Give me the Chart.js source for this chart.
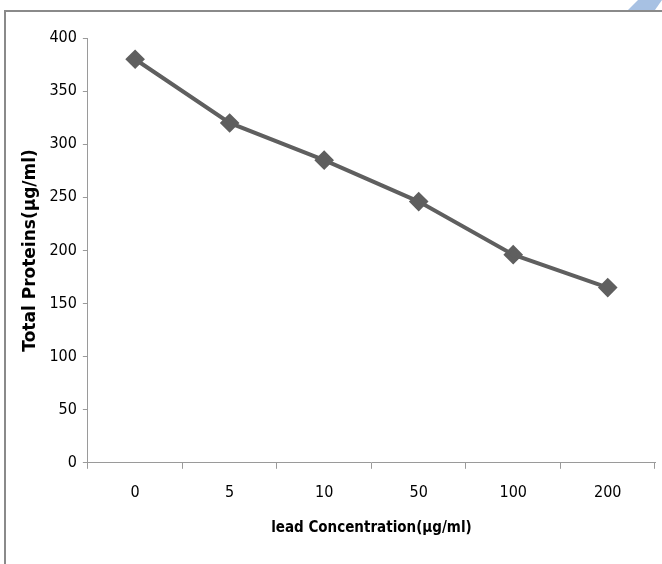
<!DOCTYPE html>
<html>
<head>
<meta charset="utf-8">
<script src="https://cdn.jsdelivr.net/npm/chart.js@4"></script>
<style>
  html, body { margin: 0; padding: 0; background: #fff; }
  #wrap { position: relative; width: 662px; height: 564px; overflow: hidden; }
  #frame { position: absolute; left: 4px; top: 10px; right: -4px; bottom: -4px;
           border-left: 2px solid #8a8a8a; border-top: 2px solid #8a8a8a; }
  #corner { position: absolute; left: 626px; top: 0; width: 36px; height: 10px;
            background: #a7c1e3; clip-path: polygon(12px 0, 36px 0, 29px 10px, 2px 10px); }
  canvas { position: absolute; left: 0; top: 0; }
</style>
</head>
<body>
<div id="wrap">
  <div id="frame"></div>
  <div id="corner"></div>
  <canvas id="myChart" width="662" height="564"></canvas>
</div>
<script>
// lead concentrations (µg/ml) and measured total proteins
const concentrations = ['0', '5', '10', '50', '100', '200'];
const totalProteins = [380, 320, 285, 246, 196, 165];
const yTicks = [0, 50, 100, 150, 200, 250, 300, 350, 400];

const narrow = "'Liberation Sans Narrow', 'DejaVu Sans Condensed', sans-serif";

const ctx = document.getElementById('myChart').getContext('2d');
const myChart = new Chart(ctx, {
    type: 'line',
    data: {
        labels: concentrations,
        datasets: [{
            data: totalProteins,
            borderColor: '#5f5f5f',
            backgroundColor: '#5f5f5f',
            borderWidth: 4,
            pointStyle: 'rectRot',
            pointRadius: 7,
            pointHoverRadius: 7,
            tension: 0,
        }]
    },
    options: {
        responsive: false,
        animation: false,
        layout: { autoPadding: false, padding: { left: 20, right: 7, top: 38, bottom: 23 } },
        plugins: { legend: { display: false }, tooltip: { enabled: false } },
        scales: {
            y: {
                min: 0,
                max: 400,
                afterBuildTicks: (axis) => { axis.ticks = yTicks.map(v => ({ value: v })); },
                border: { color: '#9a9a9a', width: 1 },
                grid: { drawOnChartArea: false, tickLength: 5, color: '#9a9a9a' },
                ticks: { color: '#000', padding: 6, font: { family: narrow, size: 16 } },
                title: {
                    display: true,
                    text: 'Total Proteins(µg/ml)',
                    color: '#000',
                    font: { family: "'DejaVu Sans', sans-serif", size: 17, weight: 'bold' },
                    padding: { top: 0, bottom: 3 },
                },
            },
            x: {
                offset: true,
                border: { color: '#9a9a9a', width: 1 },
                grid: { offset: true, drawOnChartArea: false, tickLength: 6, color: '#9a9a9a' },
                ticks: { color: '#000', padding: 14, font: { family: narrow, size: 16 } },
                title: {
                    display: true,
                    text: 'lead Concentration(µg/ml)',
                    color: '#000',
                    font: { family: narrow, size: 15, weight: 'bold' },
                    padding: { top: 3 },
                },
            },
        },
    }
});
</script>
</body>
</html>
